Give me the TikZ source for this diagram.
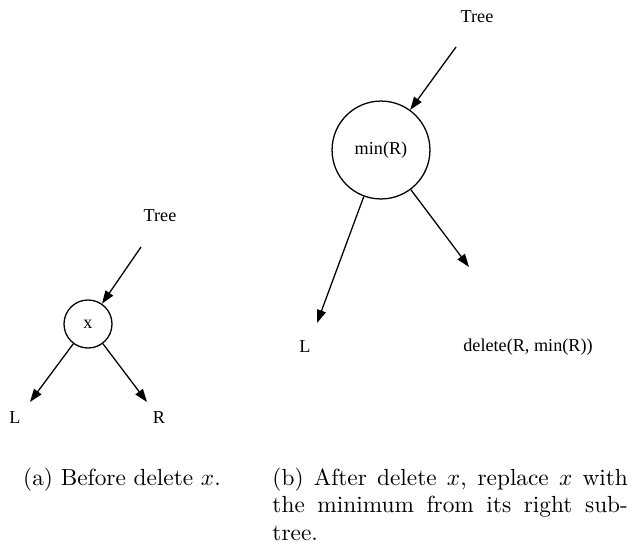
\documentclass[tikz,border=0pt]{standalone}
\usepackage{fontspec}
\newfontfamily\gvfont{Liberation Serif}
\usetikzlibrary{arrows.meta}
\begin{document}
\begin{tikzpicture}[x=0.429pt,y=-0.429pt,
  gvlabel/.style={font=\gvfont\fontsize{7.8}{9}\selectfont, inner sep=0pt},
  gvnode/.style={draw, circle, line width=0.55pt, inner sep=0pt, font=\gvfont\fontsize{7.8}{9}\selectfont},
  gvedge/.style={line width=0.55pt, -{Triangle[length=5.6pt,width=3.9pt]}},
  captext/.style={font=\fontsize{10}{12}\selectfont, inner sep=0pt}]
\path[use as bounding box] (0,0) rectangle (633,546);
% (a)
\node[gvlabel] (treeA) at (160,216) {Tree};
\node[gvnode, minimum size=20.6pt] (x) at (88,324) {x};
\node[gvlabel] (LA) at (15,418) {L};
\node[gvlabel] (RA) at (159,418) {R};
\coordinate (treeAtail) at (141,247);
\coordinate (LAtip) at (30,402);
\coordinate (RAtip) at (147,402);
\draw[gvedge] (treeAtail) -- (x);
\draw[gvedge] (x) -- (LAtip);
\draw[gvedge] (x) -- (RAtip);
% (b)
\node[gvlabel] (treeB) at (477,17) {Tree};
\node[gvnode, minimum size=42pt] (m) at (381,150) {min(R)};
\node[gvlabel] (LB) at (305,347) {L};
\node[gvlabel] (DB) at (528,347) {delete(R, min(R))};
\coordinate (treeBtail) at (456,47);
\coordinate (LBtip) at (317,323);
\coordinate (DBtip) at (469,267);
\draw[gvedge] (treeBtail) -- (m);
\draw[gvedge] (m) -- (LBtip);
\draw[gvedge] (m) -- (DBtip);
% captions
\node[captext, anchor=base] (capA) at (122,485) {(a) Before delete $x$.};
\node[captext, anchor=base west, text width=152.5pt, align=justify] (capB) at (272,485)
  {\tolerance=10000 (b) After delete $x$, replace $x$ with the minimum from its right sub\-tree.};
\end{tikzpicture}
\end{document}
